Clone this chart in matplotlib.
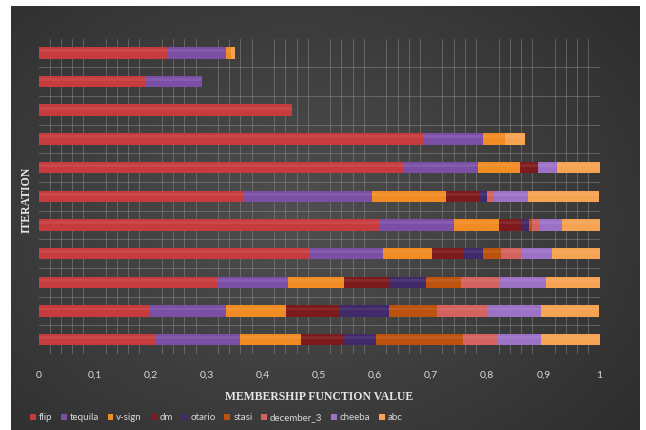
import numpy as np
import matplotlib.pyplot as plt

# membership values per iteration (top bar first)
iterations = list(range(1, 12))
series_names = ["flip", "tequila", "v-sign", "dm", "otario", "stasi", "december_3", "cheeba", "abc"]
flip = [0.231, 0.191, 0.452, 0.687, 0.650, 0.364, 0.607, 0.483, 0.318, 0.199, 0.208]
tequila = [0.104, 0.101, 0.0, 0.105, 0.134, 0.231, 0.134, 0.131, 0.126, 0.135, 0.151]
v_sign = [0.009, 0.0, 0.0, 0.040, 0.075, 0.131, 0.079, 0.087, 0.100, 0.108, 0.109]
dm = [0.0, 0.0, 0.0, 0.0, 0.031, 0.060, 0.040, 0.057, 0.080, 0.095, 0.076]
otario = [0.0, 0.0, 0.0, 0.0, 0.0, 0.013, 0.015, 0.035, 0.066, 0.087, 0.058]
stasi = [0.0, 0.0, 0.0, 0.0, 0.0, 0.0, 0.004, 0.032, 0.064, 0.087, 0.155]
december_3 = [0.0, 0.0, 0.0, 0.0, 0.0, 0.013, 0.015, 0.036, 0.068, 0.089, 0.060]
cheeba = [0.0, 0.0, 0.0, 0.0, 0.034, 0.061, 0.040, 0.055, 0.082, 0.096, 0.078]
abc = [0.006, 0.0, 0.0, 0.035, 0.076, 0.127, 0.066, 0.084, 0.096, 0.104, 0.105]
x_ticks = [0, 0.1, 0.2, 0.3, 0.4, 0.5, 0.6, 0.7, 0.8, 0.9, 1]
x_labels = ["0", "0,1", "0,2", "0,3", "0,4", "0,5", "0,6", "0,7", "0,8", "0,9", "1"]

series = [flip, tequila, v_sign, dm, otario, stasi, december_3, cheeba, abc]
colors = ["#c63b3d", "#7c4fa6", "#f18b24", "#7d1a1d", "#41296a",
          "#bd520e", "#d4625f", "#9c72c6", "#f6a352"]

fig = plt.figure(figsize=(6.46, 4.30), dpi=100)
fig.patch.set_facecolor("white")

# dark gradient panel behind the chart
bg = fig.add_axes([11 / 646, 0, 629 / 646, 1 - 6 / 430])
yy, xx = np.mgrid[0:1:200j, 0:1:300j]
r = np.clip(np.sqrt(((xx - 0.45) / 0.75) ** 2 + ((yy - 0.5) / 0.85) ** 2), 0, 1)
g = 0.31 - 0.14 * r
bg.imshow(np.dstack([g, g, g]), aspect="auto", extent=[0, 1, 0, 1], origin="upper")
bg.axis("off")

ax = fig.add_axes([38.5 / 646, 1 - 354 / 430, 561 / 646, 315.5 / 430])
ax.set_facecolor("none")

y = np.arange(len(iterations))
left = np.zeros(len(iterations))
for name, vals, c in zip(series_names, series, colors):
    vals = np.array(vals)
    ax.barh(y, vals, left=left, height=0.4, color=c, label=name, zorder=3)
    # soft highlight to suggest the cylinder look
    ax.barh(y - 0.07, vals, left=left, height=0.1, color="white", alpha=0.07, zorder=4)
    left += vals

ax.set_xlim(0, 1)
ax.set_ylim(len(iterations) - 0.5, -0.5)
ax.set_xticks(np.arange(0, 1.0001, 0.02), minor=True)
ax.set_xticks(x_ticks)
ax.set_xticklabels(x_labels, color="#d9d9d9", fontsize=7.5, family="Lato")
ax.set_yticks(np.arange(-0.5, len(iterations), 1.0), minor=True)
ax.set_yticks([])
ax.tick_params(axis="both", which="both", length=0, pad=12)
ax.grid(which="minor", color="#8c8c8c", linewidth=0.6, alpha=0.6, zorder=0)
for s in ax.spines.values():
    s.set_visible(False)

ax.set_xlabel("MEMBERSHIP FUNCTION VALUE", color="#e6e6e6", fontsize=8.5,
              fontweight="bold", family="Liberation Serif", labelpad=8)
fig.text(27 / 646, 1 - 200 / 430, "ITERATION", color="#e6e6e6", fontsize=8.5,
         fontweight="bold", family="Liberation Serif", rotation=90,
         ha="center", va="center")

leg = fig.legend(loc="center left", bbox_to_anchor=(26 / 646, 1 - 418 / 430),
                 ncol=9, frameon=False, fontsize=7, handlelength=0.6,
                 handleheight=0.6, handletextpad=0.3, columnspacing=0.9,
                 borderaxespad=0)
for t in leg.get_texts():
    t.set_color("#d9d9d9")
    t.set_family("Lato")

fig.savefig("out.png", dpi=100)
